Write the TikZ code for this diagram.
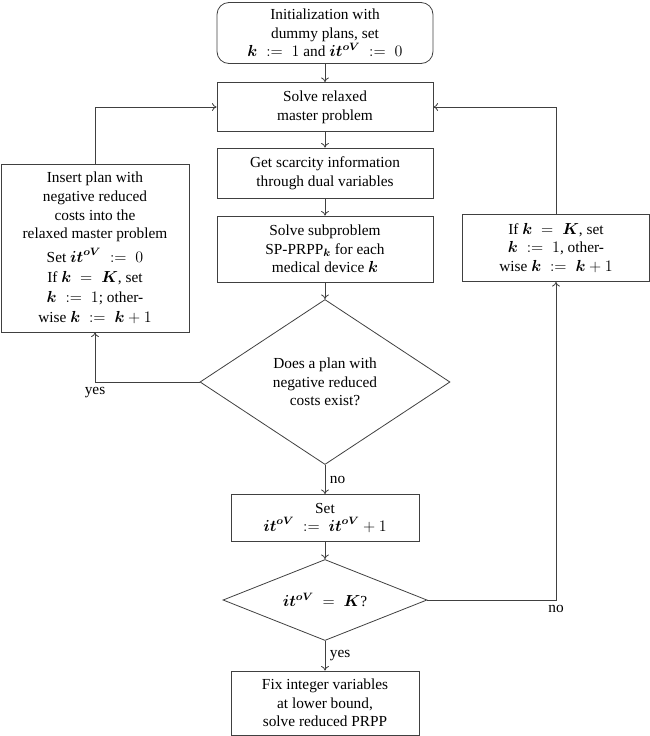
\documentclass[tikz,border=0pt]{standalone}
\usepackage{amsmath}
\usepackage{fontspec}
\setmainfont{Liberation Serif}
\usetikzlibrary{arrows.meta,shapes.geometric}

\newcommand{\bv}[1]{\boldsymbol{#1}}
\newcommand{\asgn}{\mathrel{\;:=\;}}
\newcommand{\eqsp}{\mathrel{\;=\;}}
\newcommand{\itov}{\bv{it}^{\bv{oV}}}

\begin{document}
\begin{tikzpicture}[x=0.75pt,y=-0.75pt,
    every node/.style={font=\fontsize{11.5}{14}\selectfont},
    box/.style={rectangle,draw=black!75,line width=0.6pt,align=center,inner sep=2pt},
    startbox/.style={box,rounded corners=9pt},
    decision/.style={diamond,draw=black!75,line width=0.6pt,align=center,inner sep=0pt,aspect=1.5},
    line/.style={draw=black!75,line width=0.6pt,-{To[length=3.5pt,width=6pt]}}]
    \useasboundingbox (0,0) rectangle (650,736);

    \node[startbox,minimum width=162pt,minimum height=45.75pt] (init) at (325,33)
      {Initialization with\\dummy plans, set\\$\bv{k} \asgn 1$ and $\itov \asgn 0$};
    \node[box,minimum width=162pt,minimum height=36.75pt] (master) at (325,107)
      {Solve relaxed\\master problem};
    \node[box,minimum width=162pt,minimum height=37.5pt] (dual) at (325,173)
      {Get scarcity information\\through dual variables};
    \node[box,minimum width=162pt,minimum height=49.5pt] (sub) at (325,249)
      {Solve subproblem\\SP-PRPP$_{\bv{k}}$ for each\\medical device $\bv{k}$};
    \node[decision,minimum width=187.5pt,minimum height=123.75pt] (neg) at (325,382)
      {Does a plan with\\negative reduced\\costs exist?};
    \node[box,minimum width=141pt,minimum height=35.25pt] (setit) at (325,518)
      {Set\\$\itov \asgn \itov+1$};
    \node[decision,aspect=2.5,minimum width=153pt,minimum height=60.75pt] (stop) at (325,600)
      {$\itov \eqsp \bv{K}$?};
    \node[box,minimum width=141pt,minimum height=48pt] (fix) at (325,703)
      {Fix integer variables\\at lower bound,\\solve reduced PRPP};
    \node[box,minimum width=141pt,minimum height=126pt] (insert) at (95,248)
      {Insert plan with\\negative reduced\\costs into the\\relaxed master problem\\[4pt]
       Set $\itov \asgn 0$\\[1pt]If $\bv{k} \eqsp \bv{K}$, set\\[1pt]$\bv{k} \asgn 1$; other-\\[1pt]wise $\bv{k} \asgn \bv{k}+1$};
    \node[box,minimum width=140.25pt,minimum height=50.25pt] (reset) at (556,248)
      {If $\bv{k} \eqsp \bv{K}$, set\\$\bv{k} \asgn 1$, other-\\wise $\bv{k} \asgn \bv{k}+1$};

    \foreach \from/\to in {init/master, master/dual, dual/sub, sub/neg, setit/stop}
      \draw[line] (\from) -- (\to);

    \draw[line] (neg) -- node[right] {no} (setit);
    \draw[line] (stop) -- node[right] {yes} (fix);
    \draw[line] (neg.west) -| node[pos=0.5,below] {yes} (insert.south);
    \draw[line] (insert.north) |- (master.west);
    \draw[line] (stop.east) -| node[pos=0.5,below] {no} (reset.south);
    \draw[line] (reset.north) |- (master.east);
  \end{tikzpicture}
\end{document}
